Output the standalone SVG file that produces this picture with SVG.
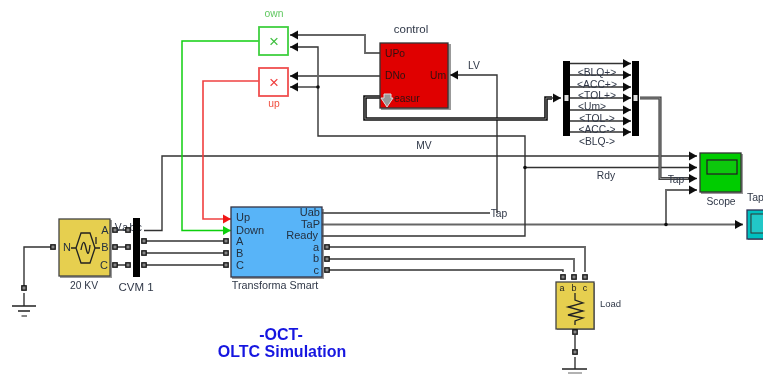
<svg xmlns="http://www.w3.org/2000/svg" width="763" height="376" viewBox="0 0 763 376">
<defs>
<filter id="soft" x="0" y="0" width="100%" height="100%" filterUnits="userSpaceOnUse"><feGaussianBlur stdDeviation="0.4"/></filter>
<marker id="ah" markerUnits="userSpaceOnUse" markerWidth="9" markerHeight="10" refX="8" refY="5" orient="auto"><path d="M0,0.5 L8,5 L0,9.5 Z" fill="#111"/></marker>
<marker id="ahr" markerUnits="userSpaceOnUse" markerWidth="9" markerHeight="10" refX="8" refY="5" orient="auto"><path d="M0,0.5 L8,5 L0,9.5 Z" fill="#f01818"/></marker>
<marker id="ahg" markerUnits="userSpaceOnUse" markerWidth="9" markerHeight="10" refX="8" refY="5" orient="auto"><path d="M0,0.5 L8,5 L0,9.5 Z" fill="#10d010"/></marker>
<symbol id="port" overflow="visible"><rect x="-2.200" y="-2.200" width="4.400" height="4.400" fill="#888" stroke="#111" stroke-width="1.300"/></symbol>
</defs>
<style>
text{font-family:"Liberation Sans",Arial,sans-serif;font-size:10.300px;fill:#303848}
.s{text-anchor:middle}
.e{text-anchor:end}
.w{fill:none;stroke:#333;stroke-width:1.4}
.g{fill:none;stroke:#666;stroke-width:1.900}
.a{marker-end:url(#ah)}
.b{stroke:#222;stroke-width:1.300;fill:none}
.sh{fill:#555;opacity:.6}
.bar{fill:#000}
.dot{fill:#111}
.p{font-size:11px;fill:#243040}
.x{font-size:17px}
</style>
<rect width="763" height="376" fill="#fff"/>
<g filter="url(#soft)">
<g id="connectors">
<path class="w" d="M53,247H24V288"/>
<path class="g" d="M115,230H128M115,247H128M115,265H128"/>
<path class="g" d="M144,241H226M144,253H226"/>
<path class="w" d="M144,265H226"/>
<path class="w" d="M144,230.500H162V156H697" marker-end="url(#ah)"/>
<path class="g" d="M322,213H490"/>
<path class="g" d="M322,224.500H743" marker-end="url(#ah)"/>
<path class="w" d="M322,236H525V136H318V47H290" marker-end="url(#ah)"/>
<path class="w a" d="M318,87H290"/>
<path class="w a" d="M525,167.500H697"/>
<path class="g a" d="M666,224.500V190H697"/>
<path class="g a" d="M380,53H365V35H290"/>
<path class="g a" d="M380,76H290"/>
<path class="w a" d="M497,213V75H450"/>
<path d="M380,97H365V119H546V98H552" fill="none" stroke="#111" stroke-width="3.600"/>
<path d="M380,97H365V119H546V98H552" fill="none" stroke="#aaa" stroke-width="0.700"/>
<path class="w a" d="M552,98H561"/>
<path d="M640,98H660V178.500H690" fill="none" stroke="#444" stroke-width="3.200"/>
<path d="M640,98H660V178.500H690" fill="none" stroke="#bbb" stroke-width="0.600"/>
<path class="w a" d="M688,178.500H697"/>
<path d="M259,41H182V230.500H231" fill="none" stroke="#10d010" stroke-width="1.500" marker-end="url(#ahg)"/>
<path d="M259,81H203V219H231" fill="none" stroke="#f04040" stroke-width="1.600" marker-end="url(#ahr)"/>
<path class="g" d="M328,247H585V272"/>
<path class="g" d="M328,259H574V272"/>
<path class="w" d="M328,270H563V272"/>
<path class="w" d="M575,335V349"/>
<path class="w a" d="M570,63.500H631"/><path class="w a" d="M570,75H631"/><path class="w a" d="M570,87H631"/><path class="w a" d="M570,98H631"/><path class="w a" d="M570,110H631"/><path class="w a" d="M570,121H631"/><path class="w a" d="M570,132H631"/>
<circle class="dot" cx="318" cy="87" r="1.800"/>
<circle class="dot" cx="525" cy="167.500" r="1.800"/>
<circle class="dot" cx="666" cy="224.500" r="1.800"/>
</g>
<g id="ground1">
<use href="#port" x="24" y="288"/>
<path class="b" d="M24,293V306M12,306H36M18,311H30"/>
<path d="M21.500,316H27" stroke="#444" stroke-width="1.300"/>
</g>
<g id="source">
<rect class="sh" x="60" y="220" width="52" height="58"/>
<rect x="59" y="219" width="51" height="57" fill="#e6cf4f" stroke="#444" stroke-width="1.300"/>
<path class="b" d="M71,248H76L81,233H90L95,248H100M76,248L81,263H90L95,248"/>
<path class="b" d="M81,250Q83.500,236 86,248T90,245M96,244V237"/>
<text x="67" y="251" class="s p">N</text><text x="105" y="234" class="s p">A</text><text x="105" y="251" class="s p">B</text><text x="104" y="269" class="s p">C</text>
<use href="#port" x="53" y="247"/><use href="#port" x="115" y="230"/><use href="#port" x="115" y="247"/><use href="#port" x="115" y="265"/>
<text x="84" y="289" class="s">20 KV</text>
</g>
<g id="cvm">
<text x="129" y="231" class="s" style="letter-spacing:1.500px">Vabc</text>
<rect class="bar" x="133" y="218" width="7" height="59"/>
<use href="#port" x="128" y="230"/><use href="#port" x="128" y="247"/><use href="#port" x="128" y="265"/>
<use href="#port" x="144" y="241"/><use href="#port" x="144" y="253"/><use href="#port" x="144" y="265"/>
<text x="136" y="291" class="s" style="font-size:11.500px">CVM 1</text>
</g>
<g id="transformer">
<rect class="sh" x="232" y="209" width="92" height="70"/>
<rect x="231" y="207" width="91" height="70" fill="#58b4f8" stroke="#334" stroke-width="1.300"/>
<text x="236" y="221" class="p">Up</text><text x="236" y="234" class="p">Down</text><text x="236" y="245" class="p">A</text><text x="236" y="257" class="p">B</text><text x="236" y="269" class="p">C</text>
<text x="320" y="216" class="p e">Uab</text><text x="320" y="228" class="p e">TaP</text><text x="318" y="239" class="p e">Ready</text><text x="319" y="251" class="p e">a</text><text x="319" y="262" class="p e">b</text><text x="319" y="274" class="p e">c</text>
<use href="#port" x="226" y="241"/><use href="#port" x="226" y="253"/><use href="#port" x="226" y="265"/>
<use href="#port" x="327" y="247"/><use href="#port" x="327" y="259"/><use href="#port" x="327" y="270"/>
<text x="275" y="289" class="s" style="font-size:10.800px">Transforma Smart</text>
</g>
<g id="own">
<rect x="259" y="27" width="29" height="28" fill="#fff" stroke="#40d040" stroke-width="1.800"/>
<text x="274" y="47" class="s x" style="fill:#40c040">×</text>
<text x="274" y="17" class="s" style="fill:#60c860">own</text>
</g>
<g id="up">
<rect x="259" y="68" width="29" height="28" fill="#fff" stroke="#f05050" stroke-width="1.800"/>
<text x="274" y="88" class="s x" style="fill:#f04040">×</text>
<text x="274" y="107" class="s" style="fill:#f05040">up</text>
</g>
<g id="control">
<rect class="sh" x="381" y="44" width="70" height="66"/>
<rect x="380" y="43" width="68" height="65" fill="#e00000" stroke="#333" stroke-width="1.300"/>
<text x="385" y="57" style="fill:#301010">UPo</text><text x="385" y="79" style="fill:#301010">DNo</text><text x="446" y="79" class="e" style="fill:#301010">Um</text><text x="394" y="102" style="fill:#301010">easur</text>
<path d="M384,94H391V98H393L387,107L381,98H384Z" fill="#999" stroke="#ddd" stroke-width="1"/>
<text x="411" y="33" class="s" style="font-size:11.500px">control</text>
</g>
<g id="bus">
<rect class="bar" x="563" y="61" width="7" height="75"/>
<rect class="bar" x="632" y="61" width="7" height="75"/>
<rect x="564.500" y="95" width="4" height="6" fill="#ddd"/><rect x="633.500" y="95" width="4" height="6" fill="#ddd"/>
<text x="597" y="76" class="s">&lt;BLQ+&gt;</text>
<text x="597" y="88" class="s">&lt;ACC+&gt;</text>
<text x="597" y="99" class="s">&lt;TOL+&gt;</text>
<text x="592" y="110" class="s">&lt;Um&gt;</text>
<text x="597" y="122" class="s">&lt;TOL-&gt;</text>
<text x="597" y="133" class="s">&lt;ACC-&gt;</text>
<text x="597" y="145" class="s">&lt;BLQ-&gt;</text>
</g>
<g id="scope">
<rect class="sh" x="701" y="154" width="42" height="40"/>
<rect x="700" y="153" width="41" height="39" fill="#00cc00" stroke="#333" stroke-width="1.300"/>
<rect x="707" y="160" width="30" height="14" fill="#10c810" stroke="#222" stroke-width="1.300"/>
<text x="721" y="205" class="s">Scope</text>
</g>
<g id="tapdisplay">
<rect class="sh" x="748" y="211" width="17" height="29"/>
<rect x="747" y="210" width="18" height="29" fill="#00c0c0" stroke="#335" stroke-width="1.300"/>
<rect x="751" y="214" width="14" height="19" fill="#20c8c8" stroke="#333"/>
<text x="747" y="201" style="font-size:10.500px">Tap</text>
</g>
<g id="load">
<rect class="sh" x="557" y="283" width="38" height="47"/>
<rect x="556" y="282" width="38" height="47" fill="#e6cf4f" stroke="#444" stroke-width="1.300"/>
<use href="#port" x="563" y="277"/><use href="#port" x="574" y="277"/><use href="#port" x="585" y="277"/>
<text x="562" y="291" class="s" style="font-size:9px;fill:#222">a</text><text x="574" y="291" class="s" style="font-size:9px;fill:#222">b</text><text x="585" y="291" class="s" style="font-size:9px;fill:#222">c</text>
<path class="b" d="M575,293V300L583,303L568,307L583,311L568,315L583,318L575,321V325"/>
<use href="#port" x="575" y="332"/>
<text x="600" y="307" style="font-size:9.500px">Load</text>
</g>
<g id="ground2">
<use href="#port" x="575" y="352"/>
<path class="b" d="M575,357V369M562,369H587"/>
<path d="M568,373H582" stroke="#888" stroke-width="1.300"/>
</g>
<g id="labels">
<text x="424" y="149" class="s">MV</text>
<text x="474" y="69" class="s">LV</text>
<text x="606" y="179" class="s">Rdy</text>
<text x="499" y="217" class="s">Tap</text>
<text x="676" y="183" class="s">Tap</text>
<text x="281" y="340" class="s" style="fill:#1818e0;font-size:16px;font-weight:bold">-OCT-</text>
<text x="282" y="357" class="s" style="fill:#1818e0;font-size:16px;font-weight:bold">OLTC Simulation</text>
</g>
</g>
</svg>
